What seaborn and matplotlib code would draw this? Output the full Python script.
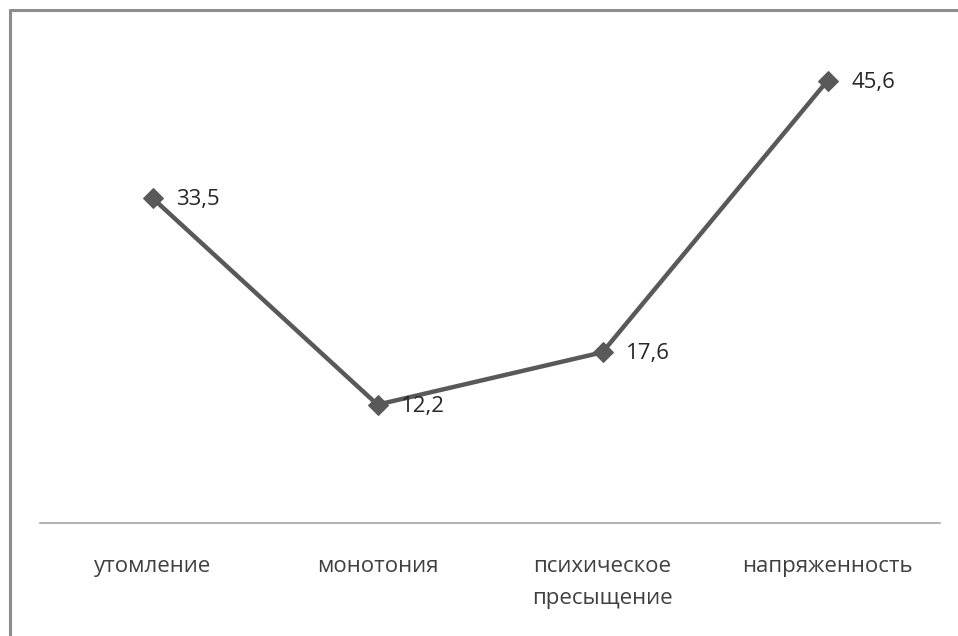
import seaborn as sns
import matplotlib.pyplot as plt
import pandas as pd
from matplotlib.lines import Line2D

# Data
categories = ['утомление', 'монотония', 'психическое\nпресыщение', 'напряженность']
values = [33.5, 12.2, 17.6, 45.6]
value_labels = ['33,5', '12,2', '17,6', '45,6']

sns.set_theme(style='white')
plt.rcParams['font.family'] = ['Open Sans', 'DejaVu Sans']

df = pd.DataFrame({'category': categories, 'value': values})

fig = plt.figure(figsize=(9.58, 6.36), dpi=100)
ax = fig.add_axes([40 / 958, (636 - 523) / 636, 900 / 958, 485 / 636])

line_color = '#595959'
sns.lineplot(data=df, x='category', y='value', ax=ax, color=line_color,
             linewidth=3.2, marker='D', markersize=10, markeredgecolor=line_color,
             sort=False)

# Value labels to the right of each point
for i, (v, lab) in enumerate(zip(values, value_labels)):
    ax.annotate(lab, (i, v), xytext=(17, -1), textcoords='offset points',
                ha='left', va='center', fontsize=16, color='#262626')

ax.set_xlim(-0.5, 3.5)
ax.set_ylim(0, 50)
ax.set_xlabel('')
ax.set_ylabel('')
ax.set_yticks([])
ax.tick_params(axis='x', length=0, pad=24, labelsize=16, colors='#404040')
for lbl in ax.get_xticklabels():
    lbl.set_verticalalignment('top')
    lbl.set_linespacing(1.65)

for side in ['top', 'left', 'right']:
    ax.spines[side].set_visible(False)
ax.spines['bottom'].set_color('#a6a6a6')
ax.spines['bottom'].set_linewidth(1.2)

# Outer frame (top and left edges visible)
fig.add_artist(Line2D([10 / 958, 1], [1 - 10 / 636, 1 - 10 / 636], transform=fig.transFigure,
                      color='#8c8c8c', linewidth=2.2))
fig.add_artist(Line2D([10 / 958, 10 / 958], [0, 1 - 10 / 636], transform=fig.transFigure,
                      color='#8c8c8c', linewidth=2.2))

fig.savefig('out.png', dpi=100)
